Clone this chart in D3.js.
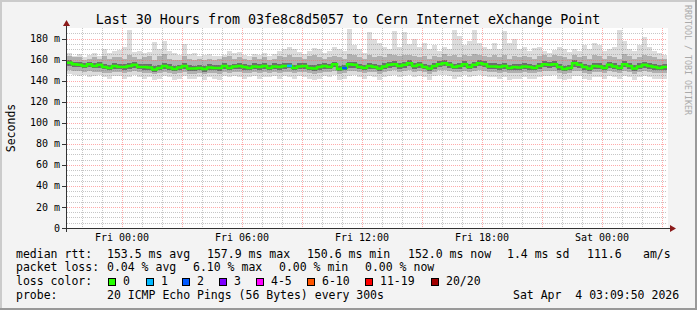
<!DOCTYPE html>
<html>
<head>
<meta charset="utf-8">
<script src="https://cdn.jsdelivr.net/npm/d3@7/dist/d3.min.js"></script>
<style>
  body { margin: 0; background: #f3f3f3; }
  svg text { font-family: "DejaVu Sans Mono", monospace; fill: #000; white-space: pre; }
</style>
</head>
<body>
<div id="chart"></div>
<script>
// 15 minute buckets, Thu 21:15 -> Sat 03:15 (UTC), values in ms
const startTime = new Date(Date.UTC(2026, 3, 2, 21, 15));
const endTime = new Date(Date.UTC(2026, 3, 4, 3, 15));
const bucketMinutes = 15;

const median = [157,155.5,155,154,155.5,154,155,153,152,154,
  153,153,154,155,153,153,152.5,150.5,152,154,
  152.5,151,152.5,154,151.5,151.5,152,151,152.5,152,
  152,154,152,153.5,154,153,152,153.5,153,154,
  152,153.5,153,154,154,152,153.5,154,152,151.5,
  153,154,153,155.5,151,152,155.5,155,153,152,
  154,153,151.5,153.5,155,155.5,154,155,156.5,154,
  155,153,151.5,154,155.5,156.5,155,153,154,155.5,
  153,155,156.5,155.5,153.5,153.5,153,154,152,153,
  152.5,153.5,153,152,154,155.5,155,155.5,153,151,
  152,156.5,155,153,151.5,154,153.5,152,155,153.5,
  152,155.5,154,151.5,153.5,155,154,153,152,153];

const pingMax = [166,163,165,162,164,166,163,170,166,168,
  169,172,188,167,168,166,167,177,170,178,
  168,166,164,175,165,166,163,164,165,163,
  163,164,168,166,167,164,163,165,164,166,
  163,165,168,170,172,170,167,165,168,171,
  170,166,168,172,170,168,189,174,170,166,
  186,180,176,172,170,187,172,186,175,180,
  172,176,170,174,168,172,170,188,182,174,
  178,188,176,172,170,176,170,187,176,180,
  170,172,168,171,172,168,166,169,172,170,
  167,170,168,174,170,176,174,168,170,172,
  188,178,170,168,174,181,172,168,166,164];

const ping90 = [163,162,162,160,161,162,161,163,161,162,
  162,161,164,162,161,162,163,160,163,165,
  161,160,160,163,161,160,161,160,161,160,
  161,162,163,161,162,161,160,162,161,162,
  160,161,163,162,164,162,162,161,163,164,
  162,161,162,163,162,161,165,164,162,161,
  164,162,163,162,165,164,163,164,164,163,
  162,163,161,163,162,165,163,164,162,164,
  163,165,164,163,162,164,162,164,161,163,
  162,163,162,161,163,164,162,164,163,162,
  161,164,162,163,161,164,163,161,163,162,
  161,165,163,161,162,164,163,162,161,161];

const ping75 = [160,158,158,157,158,157,158,156,155,157,
  156,156,157,158,156,156,156,154,155,157,
  156,154,155,157,155,154,155,154,156,155,
  155,157,155,156,157,156,155,157,156,157,
  155,157,156,157,157,155,157,157,155,155,
  156,157,156,158,154,155,158,158,156,155,
  157,156,155,157,158,159,157,158,160,157,
  158,156,155,157,159,160,158,156,157,159,
  156,158,160,159,157,157,156,157,155,156,
  156,157,156,155,157,159,158,159,156,154,
  155,160,158,156,155,157,157,155,158,157,
  155,159,157,155,157,158,157,156,155,156];

const ping25 = [154,153,153,152,153,152,152,151,150,151,
  151,150,151,152,151,150,150,148,150,151,
  150,149,150,151,149,149,150,148,150,150,
  149,151,150,151,151,150,150,151,150,151,
  150,151,150,151,152,150,151,151,150,149,
  150,151,151,153,149,150,152,152,151,150,
  151,151,149,151,152,153,151,152,154,151,
  152,151,149,151,153,154,152,151,151,153,
  151,152,154,153,151,151,150,151,150,150,
  150,151,150,150,151,153,152,153,150,149,
  150,153,152,150,149,151,151,150,152,151,
  150,153,151,149,151,152,151,150,150,150];

const ping10 = [150,149,149,148,149,148,148,147,147,148,
  148,147,148,149,148,147,147,146,147,148,
  147,146,147,148,146,146,147,146,147,147,
  146,148,147,148,148,147,147,148,147,148,
  147,148,147,148,148,147,148,148,147,146,
  147,148,148,149,146,147,149,149,148,147,
  148,148,146,148,149,150,148,149,150,148,
  149,148,146,148,150,150,149,148,148,149,
  148,149,150,149,148,148,147,148,147,147,
  147,148,147,147,148,149,149,149,147,146,
  147,149,149,147,146,148,148,147,149,148,
  147,149,148,146,148,149,148,147,147,147];

const pingMin = [146,145,144,145,143,144,145,143,142,144,
  144,142,143,145,143,142,143,141,142,144,
  143,141,142,144,142,142,143,141,143,142,
  141,144,143,144,143,142,143,144,142,143,
  143,144,142,144,143,142,144,143,142,141,
  142,144,143,145,141,142,144,145,143,142,
  144,143,141,143,144,145,143,144,145,143,
  144,143,141,144,145,145,144,142,143,145,
  143,144,145,144,143,143,142,143,141,142,
  142,143,142,142,143,144,144,145,142,141,
  142,144,144,142,141,143,143,142,144,143,
  142,144,143,141,143,144,143,142,142,142];

// lost pings (of 20) per bucket
const lost = [0,0,0,0,0,0,0,0,0,0, 0,0,0,0,0,0,0,0,0,0,
  0,0,0,0,0,0,0,0,0,0, 0,0,0,0,0,0,0,0,0,0,
  0,0,0,0,1,0,0,0,0,0, 0,0,0,0,0,2,0,0,0,0,
  0,0,0,0,0,0,0,0,0,0, 0,0,0,0,0,0,0,0,0,0,
  0,0,0,0,0,0,0,0,0,0, 0,0,0,0,0,0,0,0,0,0,
  0,0,0,0,0,0,0,0,0,0, 0,0,0,0,0,0,0,0,0,0];

const lossLabels = ["0", "1", "2", "3", "4-5", "6-10", "11-19", "20/20"];
const lossColors = ["#26ff00", "#00b8ff", "#0059ff", "#7e00ff", "#ff00ff", "#ff5500", "#ff0000", "#a10000"];
const lossMax = [0, 1, 2, 3, 5, 10, 19, 20];

const yTicks = [0, 20, 40, 60, 80, 100, 120, 140, 160, 180];

const statsRtt = ["median rtt:", "153.5 ms avg", "157.9 ms max", "150.6 ms min", "152.0 ms now", "1.4 ms sd", "111.6", "am/s"];
const statsLoss = ["packet loss:", "0.04 % avg", "6.10 % max", "0.00 % min", "0.00 % now"];
const probeText = ["probe:", "20 ICMP Echo Pings (56 Bytes) every 300s", "Sat Apr  4 03:09:50 2026"];
const title = "Last 30 Hours from 03fe8c8d5057 to Cern Internet eXchange Point";

// layout
const width = 697, height = 310;
const plot = { left: 67, right: 667, top: 28, bottom: 228 };

const svg = d3.select("#chart").append("svg")
  .attr("width", width).attr("height", height);

// frame
svg.append("rect").attr("width", width).attr("height", height).attr("fill", "#f3f3f3");
svg.append("path").attr("d", `M0,${height} V0 H${width}`).attr("stroke", "#cbcbcb").attr("stroke-width", 4).attr("fill", "none");
svg.append("path").attr("d", `M0,${height} H${width} V0`).attr("stroke", "#999").attr("stroke-width", 4).attr("fill", "none");

const x = d3.scaleUtc().domain([startTime, endTime]).range([plot.left, plot.right]);
const y = d3.scaleLinear().domain([0, 190]).range([plot.bottom, plot.top]);

const bucketStart = i => d3.utcMinute.offset(startTime, i * bucketMinutes);
const bucketEnd = i => d3.utcMinute.offset(startTime, (i + 1) * bucketMinutes);

svg.append("rect")
  .attr("x", plot.left).attr("y", plot.top)
  .attr("width", plot.right - plot.left + 1).attr("height", plot.bottom - plot.top)
  .attr("fill", "#fff");

// smoke: outer to inner bands
const bands = [
  { lo: pingMin, hi: pingMax, color: "#dcdcdc" },
  { lo: ping10, hi: ping90, color: "#b0b0b0" },
  { lo: ping25, hi: ping75, color: "#6e6e6e" }
];
const smoke = svg.append("g").attr("shape-rendering", "crispEdges");
bands.forEach(b => {
  smoke.append("g").selectAll("rect")
    .data(d3.range(median.length))
    .join("rect")
    .attr("x", i => x(bucketStart(i)))
    .attr("width", i => x(bucketEnd(i)) - x(bucketStart(i)))
    .attr("y", i => y(b.hi[i]))
    .attr("height", i => y(b.lo[i]) - y(b.hi[i]))
    .attr("fill", b.color);
});

// grid
const grid = svg.append("g").attr("shape-rendering", "crispEdges").attr("stroke-dasharray", "1,1");
const minorY = d3.range(5, 190, 5).filter(v => v % 20 !== 0);
grid.selectAll(".gy").data(minorY).join("line")
  .attr("x1", plot.left).attr("x2", plot.right)
  .attr("y1", d => Math.round(y(d)) + 0.5).attr("y2", d => Math.round(y(d)) + 0.5)
  .attr("stroke", "rgba(128,128,128,0.45)");
const hours = d3.utcHour.range(d3.utcHour.ceil(startTime), endTime);
grid.selectAll(".gx").data(hours.filter(h => h.getUTCHours() % 3 !== 0)).join("line")
  .attr("x1", d => Math.round(x(d)) + 0.5).attr("x2", d => Math.round(x(d)) + 0.5)
  .attr("y1", plot.top).attr("y2", plot.bottom)
  .attr("stroke", "rgba(128,128,128,0.45)");
grid.selectAll(".my").data(yTicks.filter(v => v > 0)).join("line")
  .attr("x1", plot.left).attr("x2", plot.right)
  .attr("y1", d => Math.round(y(d)) + 0.5).attr("y2", d => Math.round(y(d)) + 0.5)
  .attr("stroke", "rgba(255,100,100,0.55)");
grid.selectAll(".mx").data(hours.filter(h => h.getUTCHours() % 3 === 0)).join("line")
  .attr("x1", d => Math.round(x(d)) + 0.5).attr("x2", d => Math.round(x(d)) + 0.5)
  .attr("y1", plot.top).attr("y2", plot.bottom)
  .attr("stroke", "rgba(255,100,100,0.55)");

// median line, coloured by loss
const lossIndex = n => lossMax.findIndex(m => n <= m);
const medianPts = median.map((v, i) => [bucketStart(i), v]).concat([[endTime, median[median.length - 1]]]);
svg.append("path")
  .datum(medianPts)
  .attr("d", d3.line().x(d => x(d[0])).y(d => y(d[1])).curve(d3.curveStepAfter))
  .attr("fill", "none").attr("stroke", lossColors[0]).attr("stroke-width", 2.5);
svg.append("g").selectAll("line")
  .data(d3.range(median.length).filter(i => lost[i] > 0))
  .join("line")
  .attr("x1", i => x(bucketStart(i))).attr("x2", i => x(bucketEnd(i)))
  .attr("y1", i => y(median[i])).attr("y2", i => y(median[i]))
  .attr("stroke", i => lossColors[lossIndex(lost[i])]).attr("stroke-width", 2.5);

// axes
const axis = svg.append("g").attr("shape-rendering", "crispEdges");
axis.append("line").attr("x1", plot.left - 5).attr("x2", plot.right + 5)
  .attr("y1", plot.bottom + 0.5).attr("y2", plot.bottom + 0.5).attr("stroke", "#333");
axis.append("line").attr("x1", plot.left - 0.5).attr("x2", plot.left - 0.5)
  .attr("y1", plot.bottom + 4).attr("y2", plot.top - 5).attr("stroke", "#333");
axis.selectAll(".ty").data(yTicks).join("line")
  .attr("x1", plot.left - 5).attr("x2", plot.left)
  .attr("y1", d => Math.round(y(d)) + 0.5).attr("y2", d => Math.round(y(d)) + 0.5)
  .attr("stroke", "#333");
svg.append("path")
  .attr("d", `M${plot.left - 4},${plot.top - 2} L${plot.left - 0.5},${plot.top - 8} L${plot.left + 3},${plot.top - 2} Z`)
  .attr("fill", "#8b1a1a");
svg.append("path")
  .attr("d", `M${plot.right + 3},${plot.bottom - 3} L${plot.right + 9},${plot.bottom + 0.5} L${plot.right + 3},${plot.bottom + 4} Z`)
  .attr("fill", "#8b1a1a");

svg.append("g").selectAll("text").data(yTicks).join("text")
  .attr("x", 60).attr("y", d => y(d)).attr("dy", "0.36em")
  .attr("text-anchor", "end").style("font-size", "10px")
  .text(d => d === 0 ? "0" : d + " m");

const fmt = d3.utcFormat("%a %H:%M");
svg.append("g").selectAll("text")
  .data(hours.filter(h => h.getUTCHours() % 6 === 0))
  .join("text")
  .attr("x", d => x(d)).attr("y", 241)
  .attr("text-anchor", "middle").style("font-size", "10px")
  .text(d => fmt(d));

// title and side labels
svg.append("text").attr("x", 348).attr("y", 24).attr("text-anchor", "middle")
  .style("font-size", "13.3px").text(title);
svg.append("text").attr("transform", "translate(15,128) rotate(-90)")
  .attr("text-anchor", "middle").style("font-size", "11.5px").text("Seconds");
svg.append("text").attr("transform", "translate(685,5) rotate(90)")
  .style("font-size", "8.3px").style("fill", "#aaa").text("RRDTOOL / TOBI OETIKER");

// legend
const legend = svg.append("g").style("font-size", "11.5px");
const rowY = [257.5, 271, 285, 299];
const rttX = [16, 107, 207, 307, 408, 507, 587, 643];
const lossX = [16, 107, 193, 279, 365];
legend.selectAll(".r1").data(statsRtt).join("text")
  .attr("x", (d, i) => rttX[i]).attr("y", rowY[0]).text(d => d);
legend.selectAll(".r2").data(statsLoss).join("text")
  .attr("x", (d, i) => lossX[i]).attr("y", rowY[1]).text(d => d);
legend.append("text").attr("x", 16).attr("y", rowY[2]).text("loss color:");
const boxX = [108, 146, 182, 219, 256, 307, 365, 431];
const items = legend.selectAll(".lc").data(lossLabels).join("g")
  .attr("transform", (d, i) => `translate(${boxX[i]},0)`);
items.append("rect").attr("x", 0.5).attr("y", 278.5).attr("width", 7).attr("height", 7)
  .attr("fill", (d, i) => lossColors[i]).attr("stroke", "#000");
items.append("text").attr("x", 15).attr("y", rowY[2]).text(d => d);
const probeX = [16, 107, 513];
legend.selectAll(".r4").data(probeText).join("text")
  .attr("x", (d, i) => probeX[i]).attr("y", rowY[3]).text(d => d);
</script>
</body>
</html>
